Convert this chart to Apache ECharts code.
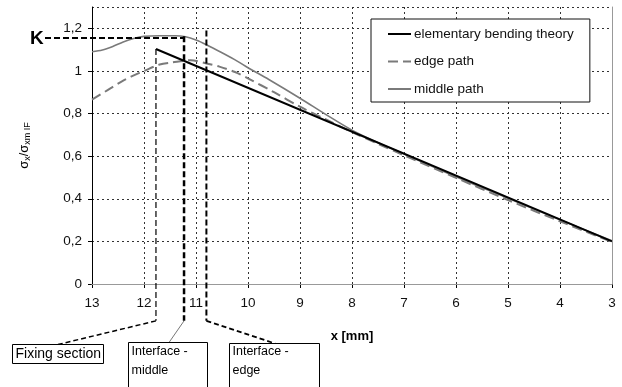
<!DOCTYPE html>
<html><head><meta charset="utf-8">
<script src="https://cdn.jsdelivr.net/npm/echarts@6/dist/echarts.min.js"></script>
<style>html,body{margin:0;padding:0;background:#fff}#c{width:622px;height:387px}</style>
</head><body><div id="c"></div>
<script>
// ---- data ----
const seriesNames = ['elementary bending theory', 'edge path', 'middle path'];
const bendingX = [11.77, 3];
const bendingY = [1.103, 0.2];
const edgeX = [13, 12.7, 12.4, 12.1, 12.0, 11.7, 11.45, 11.1, 10.8, 10.55, 10.25, 10.0, 9.5, 9.0, 8.5, 8.0, 7.5, 7.0, 6.0, 5.0, 4.0, 3.0];
const edgeY = [0.865, 0.91, 0.955, 0.99, 1.0, 1.03, 1.04, 1.05, 1.035, 1.02, 0.995, 0.965, 0.9, 0.832, 0.772, 0.713, 0.658, 0.604, 0.498, 0.394, 0.294, 0.198];
const middleX = [13, 12.8, 12.6, 12.4, 12.2, 12.0, 11.7, 11.4, 11.2, 11.0, 10.8, 10.5, 10.2, 10.0, 9.6, 9.0, 8.5, 8.0, 7.5, 7.0, 6.0, 5.0, 4.0, 3.0];
const middleY = [1.09, 1.098, 1.115, 1.136, 1.152, 1.162, 1.165, 1.165, 1.16, 1.145, 1.123, 1.085, 1.045, 1.015, 0.96, 0.872, 0.795, 0.722, 0.663, 0.61, 0.503, 0.402, 0.301, 0.203];
const yTickLabels = ['0', '0,2', '0,4', '0,6', '0,8', '1', '1,2'];
// annotation values (data units)
const annotX = [11.77, 11.23, 10.8];
const annotTopY = [1.103, 1.163, 1.19];
const annotBottomY = -0.173;
const kValue = 1.155;
const annotTexts = [['Fixing section'], ['Interface -', 'middle'], ['Interface -', 'edge']];

const zip = (xs, ys) => xs.map((x, i) => [x, ys[i]]);
const FONT = 'Liberation Sans, Arial, sans-serif';
const gridCol = '#333';

const chart = echarts.init(document.getElementById('c'));
chart.setOption({
  animation: false,
  backgroundColor: '#fff',
  textStyle: { fontFamily: FONT },
  grid: { left: 92, right: 10, top: 7, bottom: 103 },
  legend: {
    orient: 'vertical', left: 371, top: 19,
    data: seriesNames,
    itemWidth: 23, itemHeight: 14, itemGap: 13.5,
    padding: [8, 16, 6, 16],
    borderColor: '#111', borderWidth: 1, backgroundColor: '#fff',
    itemStyle: { opacity: 0 },
    textStyle: { fontSize: 13.5, color: '#111', fontFamily: FONT, padding: [0, 0, 0, -2] }
  },
  xAxis: [{
    type: 'value', inverse: true, min: 3, max: 13, interval: 1,
    axisLine: { lineStyle: { color: '#000', width: 1 } },
    axisTick: { length: 4, lineStyle: { color: '#000' } },
    axisLabel: { margin: 12, fontSize: 13.5, color: '#111' },
    splitLine: { lineStyle: { color: gridCol, type: [2, 3], width: 1 } },
    name: 'x [mm]', nameLocation: 'middle', nameGap: 46,
    nameTextStyle: { fontWeight: 'bold', fontSize: 13, color: '#000' }
  }, {
    type: 'value', position: 'top', inverse: true, min: 3, max: 13, z: 10,
    axisLine: { show: true, lineStyle: { color: '#999' } },
    axisTick: { show: false }, axisLabel: { show: false }, splitLine: { show: false }
  }],
  yAxis: [{
    type: 'value', min: 0, max: 1.3, interval: 0.2,
    axisLine: { show: true, lineStyle: { color: '#000', width: 1 } },
    axisTick: { show: true, length: 4, lineStyle: { color: '#000' } },
    axisLabel: {
      margin: 10, fontSize: 13.5, color: '#111', showMaxLabel: false,
      formatter: v => { const i = Math.round(v / 0.2); return Math.abs(v - i * 0.2) < 1e-6 ? (yTickLabels[i] || '') : ''; }
    },
    splitLine: { lineStyle: { color: gridCol, type: [2, 3], width: 1 } },
    name: '{s|σ}{b|x}{s|/}{s|σ}{b|xm IF}', nameLocation: 'middle', nameGap: 60,
    nameTextStyle: {
      rich: {
        s: { fontSize: 13, color: '#000', lineHeight: 16, fontFamily: FONT },
        b: { fontSize: 9, color: '#000', lineHeight: 10, verticalAlign: 'bottom', fontFamily: FONT }
      }
    }
  }, {
    type: 'value', position: 'right', min: 0, max: 1.3, z: 10,
    axisLine: { show: true, lineStyle: { color: '#999' } },
    axisTick: { show: false }, axisLabel: { show: false }, splitLine: { show: false }
  }],
  series: [
    { name: seriesNames[0], type: 'line', data: zip(bendingX, bendingY), symbol: 'none', z: 4,
      lineStyle: { color: '#000', width: 2 }, itemStyle: { color: '#000' } },
    { name: seriesNames[1], type: 'line', data: zip(edgeX, edgeY), symbol: 'none', smooth: 0.3, z: 3,
      lineStyle: { color: '#7a7a7a', width: 2, type: [10, 5] }, itemStyle: { color: '#7a7a7a' } },
    { name: seriesNames[2], type: 'line', data: zip(middleX, middleY), symbol: 'none', smooth: 0.3, z: 3,
      lineStyle: { color: '#7a7a7a', width: 1.6 }, itemStyle: { color: '#7a7a7a' } }
  ]
});

// ---- annotations, positioned through the chart's own scales ----
const P = (x, y) => chart.convertToPixel({ gridIndex: 0 }, [x, y]);
const g = [];
const line = (a, b, w, dash, col) => g.push({ type: 'line', z: 20, shape: { x1: a[0], y1: a[1], x2: b[0], y2: b[1] },
  style: { stroke: col || '#000', lineWidth: w, lineDash: dash || null } });
const kp = P(annotX[1], kValue);
line([45, kp[1]], kp, 2, [6, 3]);
g.push({ type: 'text', z: 20, x: 30, y: kp[1] + 1, style: { text: 'K', fontSize: 19, fontWeight: 'bold', fontFamily: FONT, fill: '#000', verticalAlign: 'middle' } });
const widths = [1.2, 2.5, 2];
const bottoms = [];
annotX.forEach((x, i) => {
  const t = P(x, annotTopY[i]), b = P(x, annotBottomY);
  line(t, b, widths[i], [6, 3]);
  bottoms.push(b);
});
// boxes (below the plot)
const boxes = [
  { x: 12.5, y: 344.5, w: 91, h: 19, ax: 58 },
  { x: 128.5, y: 342.5, w: 79, h: 60, ax: 169 },
  { x: 229.5, y: 343.5, w: 90, h: 60, ax: 275 }
];
line(bottoms[0], [boxes[0].ax, boxes[0].y], 1.5, [5, 3]);
line(bottoms[1], [boxes[1].ax, boxes[1].y], 1, null, '#777');
line(bottoms[2], [boxes[2].ax, boxes[2].y], 1.8, [5, 3]);
boxes.forEach((bx, i) => {
  g.push({ type: 'rect', z: 21, shape: { x: bx.x, y: bx.y, width: bx.w, height: bx.h }, style: { fill: '#fff', stroke: '#000', lineWidth: 1 } });
  const lines = annotTexts[i];
  lines.forEach((tx, j) => {
    g.push({ type: 'text', z: 22, x: bx.x + 3, y: (i === 0 ? 354 : 352 + j * 18.5),
      style: { text: tx, fontSize: i === 0 ? 14 : 12.5, fontFamily: FONT, fill: '#000', verticalAlign: 'middle' } });
  });
});
chart.setOption({ graphic: g });
</script>
</body></html>
